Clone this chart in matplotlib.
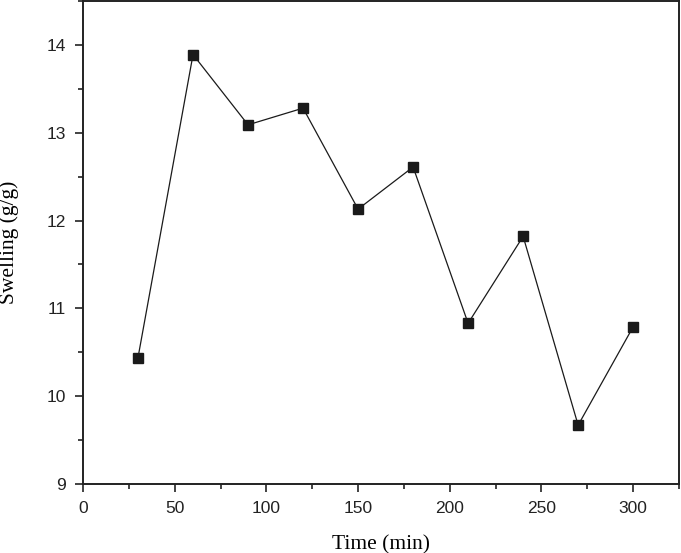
import matplotlib
matplotlib.use('Agg')
import matplotlib.pyplot as plt
from matplotlib.ticker import MultipleLocator

time_min = [30, 60, 90, 120, 150, 180, 210, 240, 270, 300]
swelling = [10.44, 13.89, 13.09, 13.28, 12.13, 12.61, 10.83, 11.82, 9.67, 10.79]

fig = plt.figure(figsize=(6.81, 5.53), dpi=100)
ax = fig.add_axes([83 / 681, 69 / 553, 596 / 681, 483 / 553])

ax.plot(time_min, swelling, color='#1a1a1a', linewidth=0.9,
        marker='s', markersize=7.5, markerfacecolor='#1a1a1a',
        markeredgecolor='#1a1a1a')

ax.set_xlim(0, 325)
ax.set_ylim(9, 14.5)
ax.xaxis.set_major_locator(MultipleLocator(50))
ax.xaxis.set_minor_locator(MultipleLocator(25))
ax.yaxis.set_major_locator(MultipleLocator(1))
ax.yaxis.set_minor_locator(MultipleLocator(0.5))

for side in ax.spines.values():
    side.set_linewidth(1.4)
    side.set_color('#222222')

ax.tick_params(which='major', direction='out', length=6, width=1.2,
               colors='#222222', labelsize=12.5, pad=6)
ax.tick_params(which='minor', direction='out', length=3.5, width=1.2,
               colors='#222222')
for lbl in ax.get_xticklabels() + ax.get_yticklabels():
    lbl.set_family('Liberation Sans')

ax.set_xlabel('Time (min)', family='Liberation Serif', fontsize=15.5, labelpad=14)
ax.set_ylabel('Swelling (g/g)', family='Liberation Serif', fontsize=15.5, labelpad=20)

fig.savefig('out.png', dpi=100)
